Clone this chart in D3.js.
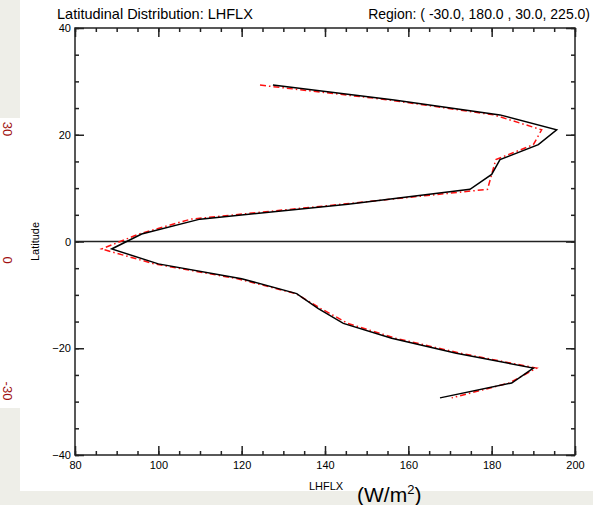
<!DOCTYPE html>
<html>
<head>
<meta charset="utf-8">
<script src="https://cdn.jsdelivr.net/npm/d3@7"></script>
<style>
  body { margin: 0; background: #eeeee8; }
  svg { display: block; }
</style>
</head>
<body>
<script>
'use strict';

// latitudes of the model grid (degrees)
const lats = [29.30, 26.51, 23.72, 20.93, 18.14, 15.35, 12.56, 9.77, 6.98, 4.19, 1.40,
  -1.40, -4.19, -6.98, -9.77, -12.56, -15.35, -18.14, -20.93, -23.72, -26.51, -29.30];
// LHFLX (W/m2), black solid series
const blackVals = [127.5, 156.6, 182.0, 195.6, 191.2, 182.0, 180.0, 174.8, 145.5, 110.0, 96.0,
  88.8, 100.0, 120.0, 133.2, 138.4, 144.4, 156.0, 171.5, 190.0, 184.8, 167.6];
// LHFLX (W/m2), red dash-dot series
const redVals = [124.4, 155.5, 180.5, 192.0, 190.0, 181.0, 180.0, 179.0, 144.0, 107.8, 95.3,
  86.4, 99.0, 119.0, 133.0, 139.0, 145.5, 157.0, 172.5, 190.8, 184.2, 170.4];

const xTicks = [80, 100, 120, 140, 160, 180, 200];
const yTicks = [-40, -20, 0, 20, 40];
const sideLabels = ["30", "0", "-30"];

const width = 593, height = 505;
const font = "Liberation Sans, Arial, Helvetica, sans-serif";

const svg = d3.select("body").append("svg")
  .attr("width", width)
  .attr("height", height);

// background pieces (slide behind the plot)
svg.append("rect").attr("x", 0).attr("y", 0).attr("width", width).attr("height", height).attr("fill", "#eeeee8");
svg.append("rect").attr("x", 20).attr("y", 0).attr("width", width - 20).attr("height", 491).attr("fill", "#ffffff");
svg.append("rect").attr("x", 0).attr("y", 118).attr("width", 20).attr("height", 290).attr("fill", "#ffffff");

// red labels along the left edge
const sideY = d3.scalePoint().domain(sideLabels).range([129, 391]);
svg.selectAll("text.side")
  .data(sideLabels)
  .enter()
  .append("text")
    .attr("class", "side")
    .attr("transform", d => "translate(3," + sideY(d) + ") rotate(90)")
    .attr("text-anchor", "middle")
    .style("font-family", font)
    .style("font-size", "13px")
    .attr("fill", "#a01010")
    .text(d => d);

const x = d3.scaleLinear().domain([80, 200]).range([75, 575]);
const y = d3.scaleLinear().domain([-40, 40]).range([455, 28]);

const minorX = d3.range(80, 201, 5);
const minorY = d3.range(-40, 41, 5);

function styleAxis(g) {
  g.select(".domain").remove();
  g.selectAll("line").attr("stroke", "#222").attr("stroke-width", 1.5);
  g.selectAll("text")
    .style("font-family", font)
    .style("font-size", "11px")
    .attr("fill", "#000");
}

// minor ticks on all four sides
svg.append("g").attr("transform", "translate(0,455)")
  .call(d3.axisBottom(x).tickValues(minorX).tickSize(-4).tickFormat("")).call(styleAxis);
svg.append("g").attr("transform", "translate(0,28)")
  .call(d3.axisTop(x).tickValues(minorX).tickSize(-4).tickFormat("")).call(styleAxis);
svg.append("g").attr("transform", "translate(75,0)")
  .call(d3.axisLeft(y).tickValues(minorY).tickSize(-4).tickFormat("")).call(styleAxis);
svg.append("g").attr("transform", "translate(575,0)")
  .call(d3.axisRight(y).tickValues(minorY).tickSize(-4).tickFormat("")).call(styleAxis);

// major ticks with labels
svg.append("g").attr("transform", "translate(0,455)")
  .call(d3.axisBottom(x).tickValues(xTicks).tickSize(-9).tickPadding(6)).call(styleAxis);
svg.append("g").attr("transform", "translate(0,28)")
  .call(d3.axisTop(x).tickValues(xTicks).tickSize(-9).tickFormat("")).call(styleAxis);
svg.append("g").attr("transform", "translate(75,0)")
  .call(d3.axisLeft(y).tickValues(yTicks).tickSize(-9).tickPadding(4)).call(styleAxis);
svg.append("g").attr("transform", "translate(575,0)")
  .call(d3.axisRight(y).tickValues(yTicks).tickSize(-9).tickFormat("")).call(styleAxis);

// plot frame
svg.append("rect")
  .attr("x", x(80)).attr("y", y(40))
  .attr("width", x(200) - x(80)).attr("height", y(-40) - y(40))
  .attr("fill", "none").attr("stroke", "#222").attr("stroke-width", 1.5);

// zero latitude line
svg.append("line")
  .attr("x1", x(80)).attr("x2", x(200))
  .attr("y1", y(0)).attr("y2", y(0))
  .attr("stroke", "#222").attr("stroke-width", 1.5);

const line = d3.line()
  .x(d => x(d[0]))
  .y(d => y(d[1]));

svg.append("path")
  .datum(redVals.map((v, i) => [v, lats[i]]))
  .attr("d", line)
  .attr("fill", "none")
  .attr("stroke", "#ff1010")
  .attr("stroke-width", 1.5)
  .attr("stroke-dasharray", "6,3,1.5,3");

svg.append("path")
  .datum(blackVals.map((v, i) => [v, lats[i]]))
  .attr("d", line)
  .attr("fill", "none")
  .attr("stroke", "#000")
  .attr("stroke-width", 1.5);

// titles
svg.append("text")
  .attr("x", 57).attr("y", 19)
  .style("font-family", font).style("font-size", "14.5px")
  .text("Latitudinal Distribution: LHFLX");

svg.append("text")
  .attr("x", 590).attr("y", 19)
  .attr("text-anchor", "end")
  .style("font-family", font).style("font-size", "14px")
  .text("Region: ( -30.0, 180.0 , 30.0, 225.0)");

// axis labels
svg.append("text")
  .attr("x", 326).attr("y", 490)
  .attr("text-anchor", "middle")
  .style("font-family", font).style("font-size", "11px")
  .text("LHFLX");

svg.append("text")
  .attr("transform", "translate(39," + y(0) + ") rotate(-90)")
  .attr("text-anchor", "middle")
  .style("font-family", font).style("font-size", "11px")
  .text("Latitude");

const unit = svg.append("text")
  .attr("x", 357).attr("y", 502)
  .style("font-family", font).style("font-size", "21px");
unit.append("tspan").text("(W/m");
unit.append("tspan").attr("dy", -8).style("font-size", "13px").text("2");
unit.append("tspan").attr("dy", 8).text(")");
</script>
</body>
</html>
